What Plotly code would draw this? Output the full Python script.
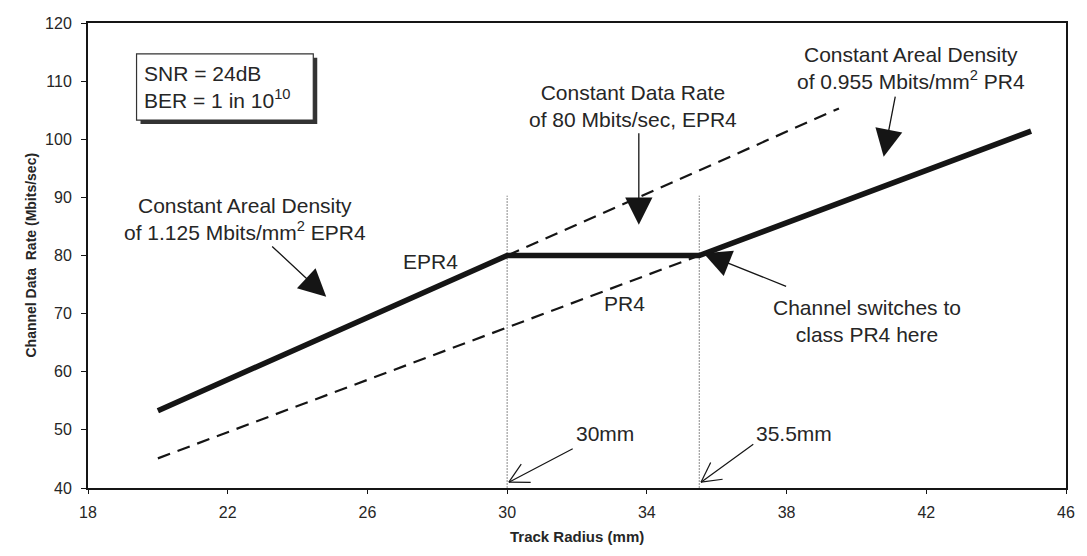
import math
import plotly.graph_objects as go

# Channel data rate versus track radius (zoned recording, EPR4 -> PR4 switch)
radius_bold = [20, 30, 35.5, 45]
rate_bold = [53.3, 80, 80, 101.4]
radius_epr4_ext = [30, 39.5]
rate_epr4_ext = [80, 105.3]
radius_pr4 = [20, 35.5]
rate_pr4 = [45.1, 80]
switch_radii = [30, 35.5]
switch_top = 90.3
x_ticks = [18, 22, 26, 30, 34, 38, 42, 46]
y_ticks = [40, 50, 60, 70, 80, 90, 100, 110, 120]

X_RANGE = [18, 46]
Y_RANGE = [40, 120]
W, H = 1087, 556
M = dict(l=88, r=12, t=23, b=68)
SX = (W - M["l"] - M["r"]) / (X_RANGE[1] - X_RANGE[0])   # px per mm
SY = (H - M["t"] - M["b"]) / (Y_RANGE[1] - Y_RANGE[0])   # px per Mbit/s

FONT = "Liberation Sans, Arial, sans-serif"
INK = "#151515"
TXT = "#262626"

fig = go.Figure()

# thin guides at the two radii
for r in switch_radii:
    fig.add_trace(go.Scatter(x=[r, r], y=[Y_RANGE[0], switch_top], mode="lines",
                             line=dict(color="#8a8a8a", width=1, dash="2px,1px"),
                             hoverinfo="skip", showlegend=False))

# constant-density extensions
fig.add_trace(go.Scatter(x=radius_epr4_ext, y=rate_epr4_ext, mode="lines",
                         line=dict(color=INK, width=2.2, dash="13px,8px"), showlegend=False))
fig.add_trace(go.Scatter(x=radius_pr4, y=rate_pr4, mode="lines",
                         line=dict(color=INK, width=2.2, dash="13px,8px"), showlegend=False))

# actual channel data rate
fig.add_trace(go.Scatter(x=radius_bold, y=rate_bold, mode="lines",
                         line=dict(color=INK, width=5.5), showlegend=False))

annotations = []
shapes = []


def label(x, y, text, size=21, align="center", xanchor="center"):
    annotations.append(dict(x=x, y=y, xref="x", yref="y", text=text, showarrow=False,
                            font=dict(family=FONT, size=size, color=TXT),
                            align=align, xanchor=xanchor, yanchor="middle"))


def big_arrow(hx, hy, tx, ty):
    annotations.append(dict(x=hx, y=hy, ax=tx, ay=ty, xref="x", yref="y",
                            axref="x", ayref="y", text="", showarrow=True,
                            arrowhead=2, arrowsize=4.2, arrowwidth=1.3,
                            arrowcolor=INK, standoff=0))


def open_arrow(hx, hy, tx, ty, arm=22, ang=28):
    annotations.append(dict(x=hx, y=hy, ax=tx, ay=ty, xref="x", yref="y",
                            axref="x", ayref="y", text="", showarrow=True,
                            arrowhead=0, arrowwidth=1.2, arrowcolor=INK, standoff=0))
    dx, dy = (tx - hx) * SX, (ty - hy) * SY
    n = math.hypot(dx, dy)
    ux, uy = dx / n, dy / n
    for s in (1, -1):
        a = math.radians(ang * s)
        rx = ux * math.cos(a) - uy * math.sin(a)
        ry = ux * math.sin(a) + uy * math.cos(a)
        shapes.append(dict(type="line", xref="x", yref="y",
                           x0=hx, y0=hy, x1=hx + arm * rx / SX, y1=hy + arm * ry / SY,
                           line=dict(color=INK, width=1.2)))


label(22.5, 86.3, "Constant Areal Density<br>of 1.125 Mbits/mm<sup>2</sup> EPR4")
big_arrow(24.82, 72.9, 23.23, 81.8)

label(27.8, 78.9, "EPR4")
label(33.35, 71.8, "PR4")

label(33.6, 105.7, "Constant Data Rate<br>of 80 Mbits/sec, EPR4")
big_arrow(33.77, 85.3, 33.77, 101.3)

label(41.55, 112.2, "Constant Areal Density<br>of 0.955 Mbits/mm<sup>2</sup> PR4")
big_arrow(40.78, 97.0, 41.12, 107.6)

label(40.3, 68.7, "Channel switches to<br>class PR4 here")
big_arrow(35.62, 80.4, 38.03, 74.6)

label(32.8, 49.3, "30mm")
open_arrow(30.05, 41.0, 31.92, 46.9)
label(38.2, 49.3, "35.5mm")
open_arrow(35.55, 41.0, 37.09, 47.7)

# parameter box with drop shadow
bx0, bx1, by0, by1 = 19.39, 24.45, 103.3, 114.7
shapes.append(dict(type="rect", xref="x", yref="y",
                   x0=bx0 + 4 / SX, x1=bx1 + 4 / SX, y0=by0 - 4 / SY, y1=by1 - 4 / SY,
                   fillcolor="#333333", line=dict(width=0), layer="above"))
shapes.append(dict(type="rect", xref="x", yref="y", x0=bx0, x1=bx1, y0=by0, y1=by1,
                   fillcolor="white", line=dict(color="#333333", width=1.2), layer="above"))
label(bx0 + 5 / SX, 109.0, "SNR = 24dB<br>BER = 1 in 10<sup>10</sup>", align="left", xanchor="left")

# axis titles
annotations.append(dict(x=0, y=0.5, xref="paper", yref="paper", xshift=-68,
                        text="<b>Channel Data  Rate (Mbits/sec)</b>", textangle=-90,
                        showarrow=False, font=dict(family=FONT, size=14, color=TXT)))
annotations.append(dict(x=0.5, y=0, xref="paper", yref="paper", yshift=-59,
                        text="<b>Track Radius (mm)</b>",
                        showarrow=False, font=dict(family=FONT, size=15, color=TXT)))

axis_common = dict(showgrid=False, zeroline=False, showline=True, linecolor=INK,
                   linewidth=2, mirror=True, ticks="outside", tickcolor=INK,
                   tickwidth=1, tickfont=dict(family=FONT, size=16, color=TXT))

fig.update_layout(
    width=W, height=H, margin=M,
    paper_bgcolor="white", plot_bgcolor="white",
    xaxis=dict(range=X_RANGE, tickmode="array", tickvals=x_ticks, ticklen=4,
               ticklabelstandoff=5, **axis_common),
    yaxis=dict(range=Y_RANGE, tickmode="array", tickvals=y_ticks, ticklen=5,
               ticklabelstandoff=6, **axis_common),
    annotations=annotations, shapes=shapes,
)

fig.write_html("out.html")
